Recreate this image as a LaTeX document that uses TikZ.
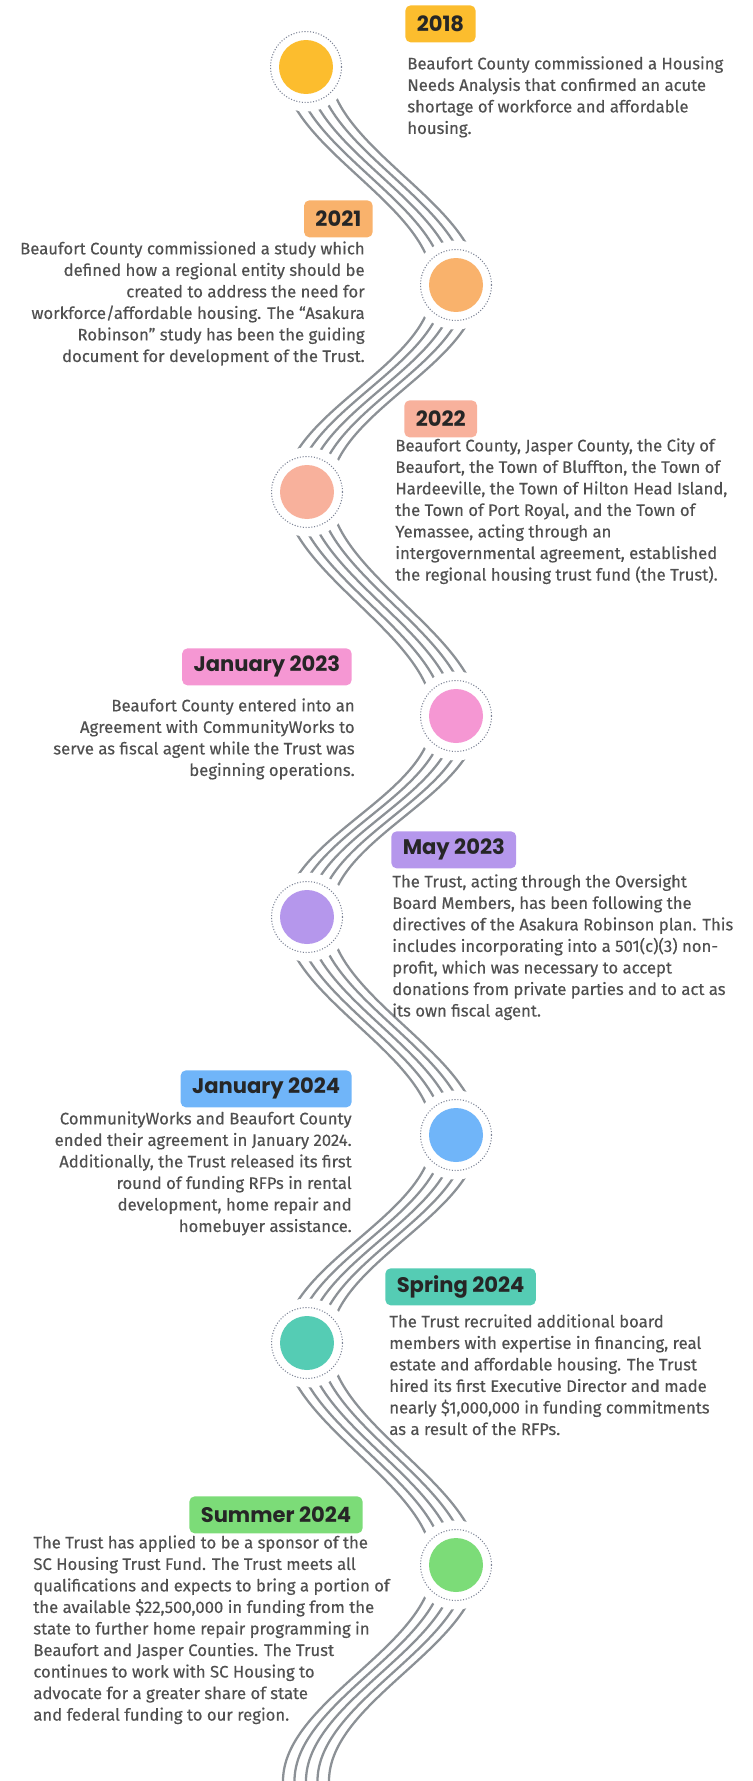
\documentclass[tikz,border=0pt]{standalone}
\usepackage{fontspec}
\setmainfont{Fira Sans}[FakeBold=0.35]
\newfontfamily\yearfont{Poppins}
\usetikzlibrary{calc}
\usetikzlibrary{positioning}

\definecolor{wavegray}{RGB}{140,145,150}
\definecolor{ringgray}{RGB}{125,132,150}
\definecolor{bodygray}{RGB}{80,80,80}
\definecolor{c2018}{HTML}{FCBD2E}
\definecolor{c2021}{HTML}{F9B26C}
\definecolor{c2022}{HTML}{F8B19C}
\definecolor{cjan23}{HTML}{F597D3}
\definecolor{cmay23}{HTML}{B597EC}
\definecolor{cjan24}{HTML}{70B5F9}
\definecolor{cspr24}{HTML}{55CCB4}
\definecolor{csum24}{HTML}{7CDC78}

\begin{document}
\begin{tikzpicture}[x=0.02cm, y=-0.02cm,
    wave/.style={draw=wavegray, line width=1.3pt},
    gap/.style={circle, fill=white, minimum size=1.78cm, inner sep=0pt},
    ring/.style={circle, draw=ringgray, densely dotted, line width=0.6pt, minimum size=1.42cm, inner sep=0pt},
    dot/.style={circle, fill=#1, minimum size=1.08cm, inner sep=0pt},
    year/.style={fill=#1, rounded corners=3pt, text=black!85, minimum height=0.74cm, inner xsep=6.5pt,
        font=\yearfont\bfseries\fontsize{12}{14}\selectfont},
    info/.style={text=bodygray, inner sep=0pt, font=\fontsize{9.5}{12.25}\selectfont}]

    \useasboundingbox (0,0) rectangle (753,1781);
    \clip (0,0) rectangle (753,1781);

    % stops on the wave
    \foreach \n/\px/\py in {1/306/67, 2/456/285, 3/307/492, 4/456/716, 5/307/917, 6/456/1135, 7/307/1343, 8/456/1565, 9/306/1781}
        \coordinate (t\n) at (\px,\py);

    % waves
    \foreach \a/\b in {t1/t2, t2/t3, t3/t4, t4/t5, t5/t6, t6/t7, t7/t8, t8/t9}
        \foreach \s in {-23,-11.5,0,11.5,23}
            \draw[wave] ($(\a)+(\s,0)$) .. controls +(0,80) and +(0,-80) .. ($(\b)+(\s,0)$);

    % circles
    \foreach \n/\col in {1/c2018, 2/c2021, 3/c2022, 4/cjan23, 5/cmay23, 6/cjan24, 7/cspr24, 8/csum24} {
        \node[gap] (gap\n) at (t\n) {};
        \node[ring] (ring\n) at (t\n) {};
        \node[dot=\col] (dot\n) at (t\n) {};
    }

    % years
    \node[year=c2018, anchor=north west] (y2018) at (405,5) {2018};
    \node[year=c2021, anchor=north east] (y2021) at (373,200) {2021};
    \node[year=c2022, anchor=north west] (y2022) at (404,400) {2022};
    \node[year=cjan23, anchor=north east] (yjan23) at (352,648) {January 2023};
    \node[year=cmay23, anchor=north west] (ymay23) at (391,831) {May 2023};
    \node[year=cjan24, anchor=north east] (yjan24) at (352,1070) {January 2024};
    \node[year=cspr24, anchor=north west] (yspr24) at (385,1268) {Spring 2024};
    \node[year=csum24, anchor=north east] (ysum24) at (363,1496) {Summer 2024};

    % texts
    \node[info, anchor=north west, align=left] (x2018) at (407,56)
        {Beaufort County commissioned a Housing\\Needs Analysis that confirmed an acute\\shortage of workforce and affordable\\housing.};
    \node[info, anchor=north east, align=right] (x2021) at (365,241)
        {Beaufort County commissioned a study which\\defined how a regional entity should be\\created to address the need for\\workforce/affordable housing. The “Asakura\\Robinson” study has been the guiding\\document for development of the Trust.};
    \node[info, anchor=north west, align=left] (x2022) at (395,438)
        {Beaufort County, Jasper County, the City of\\Beaufort, the Town of Bluffton, the Town of\\Hardeeville, the Town of Hilton Head Island,\\the Town of Port Royal, and the Town of\\Yemassee, acting through an\\intergovernmental agreement, established\\the regional housing trust fund (the Trust).};
    \node[info, anchor=north east, align=right] (xjan23) at (355,698)
        {Beaufort County entered into an\\Agreement with CommunityWorks to\\serve as fiscal agent while the Trust was\\beginning operations.};
    \node[info, anchor=north west, align=left] (xmay23) at (392,874)
        {The Trust, acting through the Oversight\\Board Members, has been following the\\directives of the Asakura Robinson plan. This\\includes incorporating into a 501(c)(3) non-\\profit, which was necessary to accept\\donations from private parties and to act as\\its own fiscal agent.};
    \node[info, anchor=north east, align=right] (xjan24) at (352,1111)
        {CommunityWorks and Beaufort County\\ended their agreement in January 2024.\\Additionally, the Trust released its first\\round of funding RFPs in rental\\development, home repair and\\homebuyer assistance.};
    \node[info, anchor=north west, align=left] (xspr24) at (389,1314)
        {The Trust recruited additional board\\members with expertise in financing, real\\estate and affordable housing. The Trust\\hired its first Executive Director and made\\nearly \$1,000,000 in funding commitments\\as a result of the RFPs.};
    \node[info, anchor=north west, align=left] (xsum24) at (33,1535)
        {The Trust has applied to be a sponsor of the\\SC Housing Trust Fund. The Trust meets all\\qualifications and expects to bring a portion of\\the available \$22,500,000 in funding from the\\state to further home repair programming in\\Beaufort and Jasper Counties. The Trust\\continues to work with SC Housing to\\advocate for a greater share of state\\and federal funding to our region.};

\end{tikzpicture}
\end{document}
